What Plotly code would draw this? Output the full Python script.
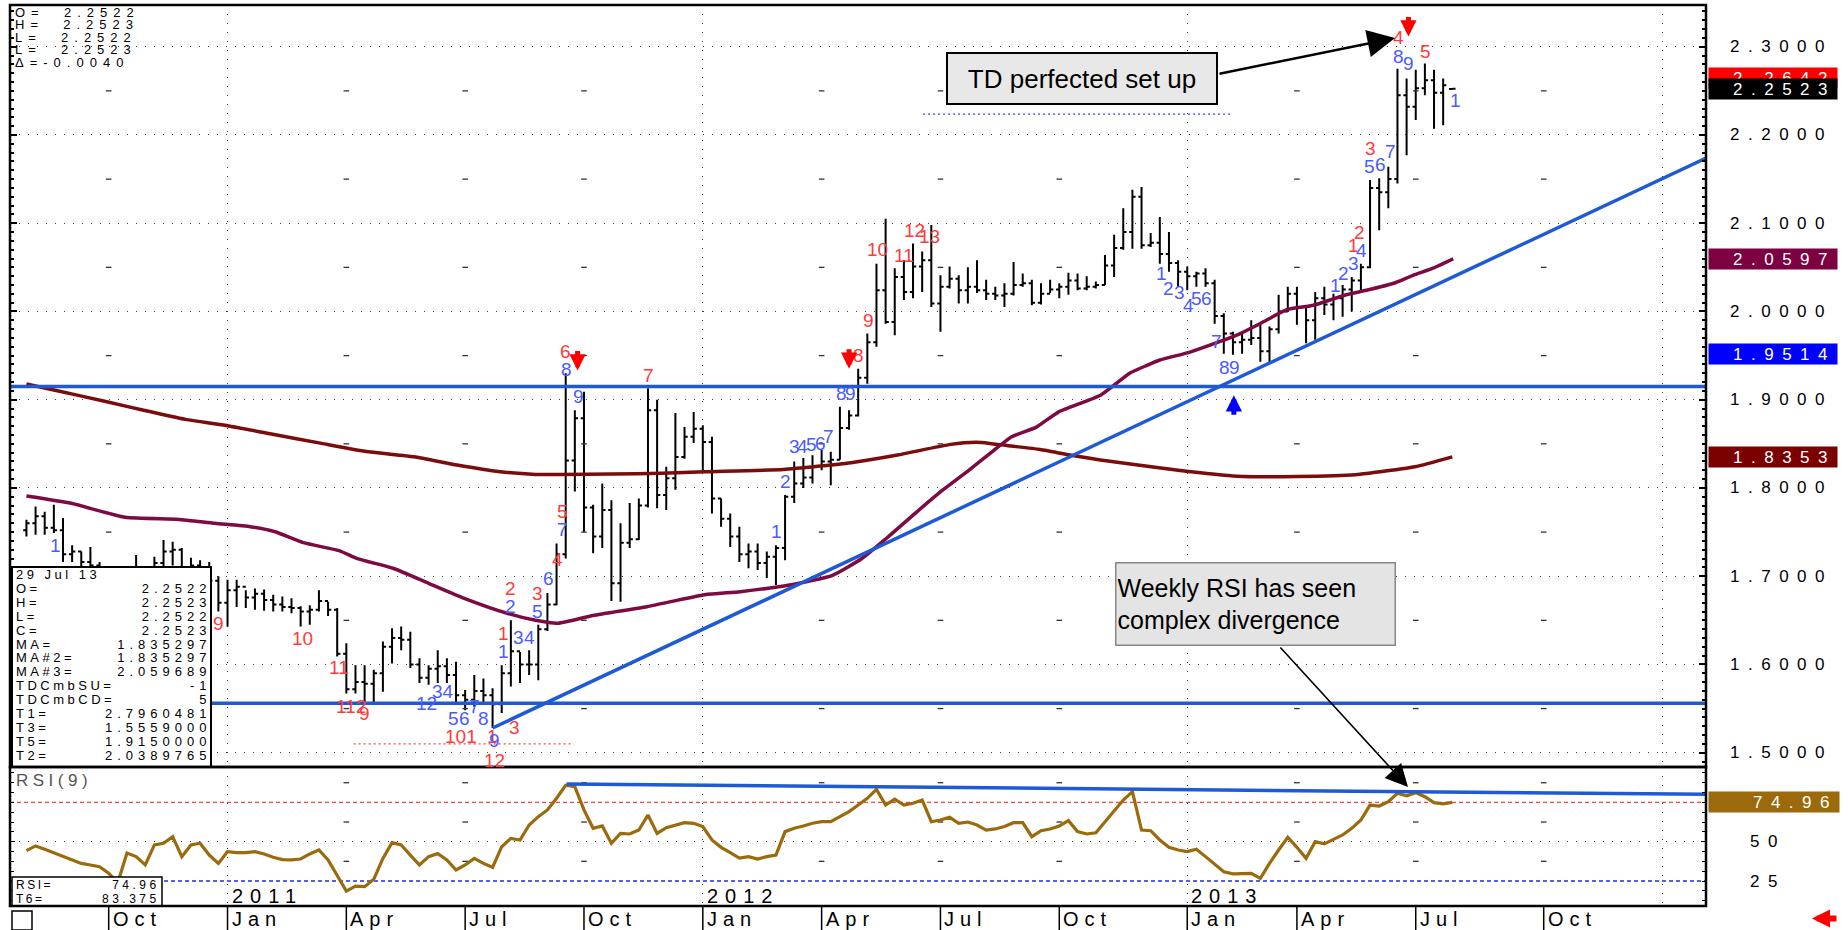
import pandas as pd
import plotly.graph_objects as go

# ---------------- data (weekly bars, Mondays) ----------------
first_bar = "2010-08-02"
week0 = "2011-01-03"   # reference week used for positions of notes

opens = [1.752, 1.760, 1.768, 1.755, 1.752, 1.725, 1.728, 1.716, 1.712, 1.698,
         1.688, 1.678, 1.700, 1.705, 1.695, 1.715, 1.728, 1.730, 1.706, 1.712,
         1.708, 1.695, 1.670, 1.684, 1.688, 1.676, 1.680, 1.673, 1.668, 1.665,
         1.664, 1.660, 1.662, 1.672, 1.662, 1.612, 1.572, 1.580, 1.578, 1.590,
         1.620, 1.630, 1.628, 1.600, 1.585, 1.595, 1.598, 1.588, 1.565, 1.560,
         1.570, 1.565, 1.555, 1.590, 1.615, 1.600, 1.600, 1.640, 1.668, 1.725,
         1.831, 1.879, 1.778, 1.745, 1.775, 1.692, 1.738, 1.742, 1.780, 1.888,
         1.792, 1.811, 1.835, 1.858, 1.867, 1.852, 1.788, 1.765, 1.745, 1.725,
         1.728, 1.715, 1.722, 1.732, 1.790, 1.805, 1.812, 1.825, 1.830, 1.832,
         1.868, 1.882, 1.925, 1.965, 2.024, 1.988, 2.039, 2.022, 2.051, 2.058,
         2.009, 2.028, 2.037, 2.024, 2.028, 2.024, 2.020, 2.018, 2.020, 2.030,
         2.032, 2.010, 2.020, 2.025, 2.028, 2.035, 2.026, 2.028, 2.030, 2.052,
         2.072, 2.090, 2.130, 2.075, 2.078, 2.065, 2.055, 2.045, 2.040, 2.043,
         2.032, 1.995, 1.975, 1.965, 1.968, 1.970, 1.955, 1.980, 2.000, 2.020,
         2.005, 1.990, 2.015, 2.008, 2.015, 2.025, 2.035, 2.050, 2.140, 2.135,
         2.150, 2.245, 2.232, 2.253, 2.262, 2.248, 2.2522]
highs = [1.764, 1.779, 1.773, 1.781, 1.766, 1.735, 1.728, 1.733, 1.716, 1.704,
         1.700, 1.708, 1.724, 1.705, 1.722, 1.741, 1.739, 1.732, 1.721, 1.718,
         1.716, 1.700, 1.696, 1.696, 1.684, 1.686, 1.685, 1.679, 1.677, 1.675,
         1.666, 1.667, 1.684, 1.671, 1.664, 1.624, 1.599, 1.599, 1.594, 1.626,
         1.641, 1.643, 1.637, 1.607, 1.599, 1.616, 1.607, 1.603, 1.571, 1.588,
         1.584, 1.573, 1.599, 1.650, 1.614, 1.616, 1.645, 1.681, 1.737, 1.930,
         1.888, 1.909, 1.781, 1.805, 1.786, 1.760, 1.783, 1.788, 1.913, 1.900,
         1.824, 1.885, 1.869, 1.886, 1.871, 1.858, 1.788, 1.771, 1.756, 1.737,
         1.737, 1.728, 1.735, 1.792, 1.830, 1.834, 1.837, 1.843, 1.841, 1.892,
         1.888, 1.935, 1.975, 2.054, 2.105, 2.049, 2.058, 2.077, 2.068, 2.098,
         2.041, 2.051, 2.041, 2.050, 2.058, 2.036, 2.028, 2.032, 2.056, 2.043,
         2.036, 2.032, 2.036, 2.032, 2.044, 2.043, 2.040, 2.034, 2.064, 2.087,
         2.117, 2.138, 2.141, 2.089, 2.107, 2.090, 2.058, 2.051, 2.045, 2.049,
         2.036, 1.998, 1.977, 1.977, 1.990, 1.985, 1.983, 2.019, 2.028, 2.028,
         2.006, 2.022, 2.028, 2.020, 2.030, 2.039, 2.054, 2.149, 2.151, 2.164,
         2.275, 2.264, 2.274, 2.281, 2.274, 2.264, 2.2523]
lows = [1.745, 1.747, 1.747, 1.749, 1.716, 1.716, 1.711, 1.705, 1.690, 1.680,
        1.672, 1.676, 1.690, 1.688, 1.692, 1.705, 1.712, 1.700, 1.695, 1.695,
        1.690, 1.660, 1.643, 1.665, 1.664, 1.662, 1.661, 1.660, 1.660, 1.658,
        1.643, 1.645, 1.660, 1.655, 1.609, 1.567, 1.567, 1.556, 1.556, 1.569,
        1.601, 1.616, 1.596, 1.579, 1.577, 1.579, 1.579, 1.556, 1.548, 1.552,
        1.556, 1.528, 1.545, 1.575, 1.579, 1.588, 1.582, 1.638, 1.667, 1.720,
        1.796, 1.750, 1.726, 1.732, 1.672, 1.671, 1.732, 1.741, 1.778, 1.777,
        1.775, 1.798, 1.833, 1.851, 1.820, 1.771, 1.756, 1.733, 1.716, 1.709,
        1.707, 1.698, 1.690, 1.718, 1.783, 1.800, 1.805, 1.820, 1.803, 1.832,
        1.866, 1.881, 1.918, 1.960, 1.986, 1.973, 2.013, 2.015, 2.022, 2.005,
        1.977, 2.026, 2.009, 2.009, 2.021, 2.013, 2.013, 2.005, 2.018, 2.028,
        2.007, 2.008, 2.021, 2.015, 2.019, 2.024, 2.024, 2.026, 2.030, 2.039,
        2.070, 2.071, 2.071, 2.073, 2.054, 2.045, 2.028, 2.024, 2.028, 2.028,
        1.986, 1.952, 1.951, 1.952, 1.962, 1.943, 1.943, 1.975, 2.000, 1.985,
        1.964, 1.968, 1.996, 1.990, 1.994, 2.000, 2.024, 2.049, 2.092, 2.117,
        2.145, 2.177, 2.217, 2.245, 2.207, 2.211, 2.2522]
closes = [1.760, 1.768, 1.755, 1.752, 1.725, 1.728, 1.716, 1.712, 1.698, 1.688,
          1.678, 1.700, 1.705, 1.695, 1.715, 1.728, 1.730, 1.706, 1.712, 1.708,
          1.695, 1.670, 1.684, 1.688, 1.676, 1.680, 1.673, 1.668, 1.665, 1.664,
          1.660, 1.662, 1.672, 1.662, 1.612, 1.572, 1.580, 1.578, 1.590, 1.620,
          1.630, 1.628, 1.600, 1.585, 1.595, 1.598, 1.588, 1.565, 1.560, 1.570,
          1.565, 1.555, 1.590, 1.615, 1.600, 1.600, 1.640, 1.668, 1.725, 1.831,
          1.879, 1.778, 1.745, 1.775, 1.692, 1.738, 1.742, 1.780, 1.888, 1.792,
          1.811, 1.835, 1.858, 1.867, 1.852, 1.788, 1.765, 1.745, 1.725, 1.728,
          1.715, 1.722, 1.732, 1.790, 1.805, 1.812, 1.825, 1.830, 1.832, 1.868,
          1.882, 1.925, 1.965, 2.024, 1.988, 2.039, 2.022, 2.051, 2.058, 2.009,
          2.028, 2.037, 2.024, 2.028, 2.024, 2.020, 2.018, 2.020, 2.030, 2.032,
          2.010, 2.020, 2.025, 2.028, 2.035, 2.026, 2.028, 2.030, 2.052, 2.072,
          2.090, 2.130, 2.075, 2.078, 2.065, 2.055, 2.045, 2.040, 2.043, 2.032,
          1.995, 1.975, 1.965, 1.968, 1.970, 1.955, 1.980, 2.000, 2.020, 2.005,
          1.990, 2.015, 2.008, 2.015, 2.025, 2.035, 2.050, 2.140, 2.135, 2.150,
          2.245, 2.232, 2.253, 2.262, 2.248, 2.2563, 2.2523]
rsi9 = [44.3, 47.3, 45.2, 43.0, 40.5, 38.4, 36.2, 35.2, 34.1, 29.9,
        24.0, 42.8, 40.5, 35.2, 48.0, 49.0, 53.2, 40.5, 47.9, 49.0,
        41.5, 36.2, 43.7, 43.0, 43.0, 43.7, 42.2, 40.1, 38.6, 38.4,
        39.0, 42.2, 44.7, 38.4, 28.8, 18.6, 21.8, 21.4, 26.1, 39.4,
        49.4, 47.9, 41.5, 35.2, 40.5, 42.4, 38.4, 32.0, 35.2, 39.4,
        36.2, 33.7, 46.8, 52.1, 51.1, 60.6, 65.9, 70.2, 77.6, 85.9,
        85.0, 70.2, 58.5, 60.0, 49.0, 55.3, 54.9, 57.4, 67.0, 55.3,
        58.9, 60.6, 62.1, 61.7, 59.6, 51.1, 46.4, 43.0, 39.6, 40.5,
        39.0, 40.5, 41.5, 56.4, 58.5, 60.0, 61.7, 62.7, 62.7, 65.9,
        69.1, 73.3, 77.6, 83.3, 73.3, 77.0, 73.3, 74.4, 76.5, 62.7,
        63.8, 65.5, 61.7, 62.5, 60.6, 57.4, 58.1, 59.6, 62.1, 62.1,
        53.2, 57.0, 58.1, 60.0, 63.4, 56.4, 54.9, 55.7, 62.7, 70.2,
        76.5, 81.8, 57.4, 57.0, 51.1, 46.4, 44.7, 43.7, 45.2, 40.5,
        35.8, 30.9, 29.5, 29.9, 29.9, 26.7, 36.2, 44.7, 52.8, 46.4,
        39.4, 50.0, 48.6, 51.5, 54.3, 58.5, 63.8, 73.3, 72.7, 75.5,
        80.8, 79.1, 81.2, 78.6, 74.8, 74.0, 74.96]

# moving averages (week offsets from week0, value)
ma_long_wk = [-22, -19, -13.2, -9.3, -4.6, 0, 4.8, 10.3, 15.4, 20.4, 25.1, 29.8, 33.7, 36.4,
              42, 47.5, 52.2, 60.8, 68.2, 73.3, 79.1, 81.9, 83.4, 85.4, 88.9, 92.8, 95.5,
              104, 110.5, 117, 123.4, 129.9, 134]
ma_long_val = [1.9178, 1.911, 1.8977, 1.8883, 1.8777, 1.8706, 1.8611, 1.8505, 1.841, 1.8354,
               1.826, 1.8184, 1.8154, 1.8154, 1.8158, 1.8166, 1.8184, 1.821, 1.8287, 1.8373,
               1.8494, 1.8517, 1.8505, 1.8479, 1.8437, 1.8362, 1.8317, 1.820, 1.8133, 1.8130,
               1.815, 1.824, 1.8353]
ma3_wk = [-22, -17.1, -11.2, -5.35, -1.4, 2.5, 5.2, 8.3, 12.2, 14.2, 18.1, 22, 25.9, 30.6,
          33.7, 36.1, 40, 45.9, 52.2, 56.1, 61.5, 66.2, 69.4, 72.1, 75.2, 78.3, 81.1, 83.4,
          85.8, 88.5, 90.9, 95.5, 98.7, 100.6, 102, 105.3, 108.6, 110.8, 113.1, 115.9, 118.8,
          122.4, 124.6, 127.6, 129.7, 131.9, 134.1]
ma3_val = [1.7909, 1.7826, 1.7667, 1.7644, 1.7599, 1.7561, 1.7504, 1.738, 1.729, 1.720,
           1.709, 1.692, 1.675, 1.658, 1.650, 1.6466, 1.6555, 1.6655, 1.679, 1.6825, 1.690,
           1.701, 1.720, 1.743, 1.771, 1.798, 1.820, 1.839, 1.858, 1.869, 1.886, 1.905, 1.930,
           1.939, 1.945, 1.954, 1.966, 1.975, 1.987, 2.002, 2.007, 2.019, 2.024, 2.032, 2.041,
           2.049, 2.0597]

trend_wk = [29, 162]
trend_val = [1.528, 2.175]
rsi_trend_wk = [37.1, 162]
rsi_trend_val = [86.7, 80.1]
t5_level = 1.9150
t3_level = 1.5559
td_blue_dot_wk, td_blue_dot_val = [76.1, 109.9], 2.2236
td_red_dot_wk, td_red_dot_val = [13.8, 37.9], 1.5099

price_ticks = [2.3, 2.2, 2.1, 2.0, 1.9, 1.8, 1.7, 1.6, 1.5]
rsi_tick_vals = [50, 25]
tag_values = [2.2642, 2.2523, 2.0597, 1.9514, 1.8353]
tag_colors = ["#FF0000", "#000000", "#7D0040", "#0000FF", "#7B0000"]
rsi_tag = 74.96

# TD sequential / setup counts
td_weeks = [-18.8, -0.97, 8.25, 12.2, 13.5, 15.0, 21.8, 23.6, 24.7, 25.9, 27.0, 28.0, 25.5, 29.0,
            29.2, 29.2, 31.4, 30.2, 30.2, 31.0, 31.0, 31.8, 33.0, 33.9, 33.9, 35.1, 36.05, 36.65,
            36.65, 37.0, 37.1, 38.4, 46.1, 60.05, 61.1, 62.0, 62.9, 63.9, 64.9, 65.8, 69.0, 67.2,
            68.2, 70.1, 71.1, 74.0, 75.2, 76.8, 102.2, 103.0, 104.1, 105.1, 106.0, 107.1, 108.2,
            109.1, 110.2, 121.2, 122.1, 123.2, 124.1, 123.2, 123.9, 125.1, 124.9, 126.1, 127.2,
            128.1, 128.1, 129.2, 131.1, 134.3]
td_prices = [1.735, 1.6466, 1.6297, 1.596, 1.552, 1.5447, 1.556, 1.569, 1.539, 1.539, 1.552, 1.539,
             1.518, 1.518, 1.5144, 1.4917, 1.529, 1.6356, 1.6144, 1.6866, 1.6655, 1.630, 1.630,
             1.6806, 1.6598, 1.6977, 1.7184, 1.7524, 1.7731, 1.9544, 1.9337, 1.9034, 1.928, 1.7504,
             1.807, 1.8468, 1.8468, 1.8487, 1.8505, 1.858, 1.9506, 1.907, 1.907, 1.990, 2.070,
             2.064, 2.092, 2.085, 2.0432, 2.0265, 2.021, 2.0073, 2.015, 2.015, 1.9657, 1.937,
             1.937, 2.030, 2.043, 2.054, 2.0696, 2.075, 2.090, 2.1849, 2.164, 2.166, 2.181,
             2.3107, 2.2887, 2.281, 2.2943, 2.2396]
td_labels = ["1", "9", "10", "11", "112", "9", "12", "34", "5", "6", "7", "8", "101", "1",
             "9", "12", "3", "1", "1", "2", "2", "3", "4", "3", "5", "6", "4", "7",
             "5", "6", "8", "9", "7", "1", "2", "3", "4", "5", "6", "7", "8", "8",
             "9", "9", "10", "11", "12", "13", "1", "2", "3", "4", "5", "6", "7",
             "8", "9", "1", "2", "3", "4", "1", "2", "3", "5", "6", "7",
             "4", "8", "9", "5", "1"]
td_colors = ["b", "r", "r", "r", "r", "r", "b", "b", "b", "b", "b", "b", "r", "r",
             "b", "r", "r", "r", "b", "r", "b", "b", "b", "r", "b", "b", "r", "b",
             "r", "r", "b", "b", "r", "b", "b", "b", "b", "b", "b", "b", "r", "b",
             "b", "r", "r", "r", "r", "r", "b", "b", "b", "b", "b", "b", "b",
             "b", "b", "b", "b", "b", "b", "r", "r", "r", "b", "b", "b",
             "r", "b", "b", "r", "b"]
sell_arrow_weeks = [38.3, 68.0, 129.2]
sell_arrow_tips = [1.933, 1.935, 2.3115]
buy_arrow_weeks = [110.1]
buy_arrow_tips = [1.905]

quarter_dates = ["2010-10-04", "2011-01-03", "2011-04-04", "2011-07-04", "2011-10-03",
                 "2012-01-02", "2012-04-02", "2012-07-02", "2012-10-01", "2013-01-07",
                 "2013-04-01", "2013-07-01", "2013-10-07"]
quarter_names = ["Oct", "Jan", "Apr", "Jul", "Oct", "Jan", "Apr", "Jul", "Oct", "Jan",
                 "Apr", "Jul", "Oct"]
year_dates = ["2011-01-03", "2012-01-02", "2013-01-07", "2014-01-06"]
year_names = ["2011", "2012", "2013"]

top_info = [("O=", "2.2522"), ("H=", "2.2523"), ("L=", "2.2522"), ("L=", "2.2523"), ("Δ=", "-0.0040")]
box_info = [("29 Jul 13", ""), ("O=", "2.2522"), ("H=", "2.2523"), ("L=", "2.2522"),
            ("C=", "2.2523"), ("MA=", "1.835297"), ("MA#2=", "1.835297"), ("MA#3=", "2.059689"),
            ("TDCmbSU=", "-1"), ("TDCmbCD=", "5"), ("T1=", "2.7960481"), ("T3=", "1.5559000"),
            ("T5=", "1.9150000"), ("T2=", "2.0389765")]
rsi_info = [("RSI=", "74.96"), ("T6=", "83.375")]

# ---------------- geometry ----------------
W, H = 1848, 930
ML, MR, MT, MB = 10, 142, 5, 24
PW, PH = W - ML - MR, H - MT - MB
SPLIT = 767  # pixel row between price and RSI panels


def px_x(X):
    return (X - ML) / PW


def px_y(Y):
    return (H - MB - Y) / PH


base = pd.Timestamp(week0)


def wdate(w):
    return base + pd.Timedelta(days=7 * w)


def sp(s, ls, size=None):
    st = f"letter-spacing:{ls}px"
    if size:
        st += f";font-size:{size}px"
    return f'<span style="{st}">{s}</span>'


dates = pd.date_range(first_bar, periods=len(closes), freq="7D")
FONT = "Liberation Sans, Arial, sans-serif"
BLUE = "#1E5AD6"
RED_T = "#FF3A3A"
BLUE_T = "#4B5BFF"
NB = "\u00a0"

fig = go.Figure()

fig.add_trace(go.Ohlc(
    x=dates, open=opens, high=highs, low=lows, close=closes,
    increasing=dict(line=dict(color="black", width=2)),
    decreasing=dict(line=dict(color="black", width=2)),
    tickwidth=0.35, xaxis="x", yaxis="y", showlegend=False, hoverinfo="skip"))

fig.add_trace(go.Scatter(x=[wdate(w) for w in ma_long_wk], y=ma_long_val, mode="lines",
                         line=dict(color="#7A0C0C", width=3.5, shape="spline", smoothing=0.5),
                         xaxis="x", yaxis="y", showlegend=False, hoverinfo="skip"))
fig.add_trace(go.Scatter(x=[wdate(w) for w in ma3_wk], y=ma3_val, mode="lines",
                         line=dict(color="#7D0A40", width=3.5, shape="spline", smoothing=0.5),
                         xaxis="x", yaxis="y", showlegend=False, hoverinfo="skip"))
fig.add_trace(go.Scatter(x=[wdate(w) for w in trend_wk], y=trend_val, mode="lines",
                         line=dict(color=BLUE, width=3.5),
                         xaxis="x", yaxis="y", showlegend=False, hoverinfo="skip"))
fig.add_trace(go.Scatter(x=[wdate(w) for w in td_blue_dot_wk], y=[td_blue_dot_val] * 2, mode="lines",
                         line=dict(color="#3040FF", width=1.3, dash="2px,3px"),
                         xaxis="x", yaxis="y", showlegend=False, hoverinfo="skip"))
fig.add_trace(go.Scatter(x=[wdate(w) for w in td_red_dot_wk], y=[td_red_dot_val] * 2, mode="lines",
                         line=dict(color="#FF4040", width=1.3, dash="2px,3px"),
                         xaxis="x", yaxis="y", showlegend=False, hoverinfo="skip"))

# grid marks at quarter lines (half levels)
qx, qy = [], []
for d, n in zip(quarter_dates, quarter_names):
    if n == "Jan":
        continue
    for lv in [1.55, 1.65, 1.75, 1.85, 1.95, 2.05, 2.15, 2.25]:
        qx.append(pd.Timestamp(d)); qy.append(lv)
fig.add_trace(go.Scatter(x=qx, y=qy, mode="markers",
                         marker=dict(symbol="line-ew", size=4, line=dict(width=1.3, color="#333")),
                         xaxis="x", yaxis="y", showlegend=False, hoverinfo="skip"))
rx, ry = [], []
for d, n in zip(quarter_dates, quarter_names):
    if n == "Jan" or d < "2011":
        continue
    for lv in [37.5, 62.5, 87.5]:
        rx.append(pd.Timestamp(d)); ry.append(lv)
fig.add_trace(go.Scatter(x=rx, y=ry, mode="markers",
                         marker=dict(symbol="line-ew", size=4, line=dict(width=1.3, color="#333")),
                         xaxis="x", yaxis="y2", showlegend=False, hoverinfo="skip"))

# RSI panel
fig.add_trace(go.Scatter(x=dates, y=rsi9, mode="lines", line=dict(color="#9A6A0C", width=3.2),
                         xaxis="x", yaxis="y2", showlegend=False, hoverinfo="skip"))
fig.add_trace(go.Scatter(x=[wdate(w) for w in rsi_trend_wk], y=rsi_trend_val, mode="lines",
                         line=dict(color=BLUE, width=3.5),
                         xaxis="x", yaxis="y2", showlegend=False, hoverinfo="skip"))

shapes = []
for lv in [t5_level, t3_level]:
    shapes.append(dict(type="line", xref="paper", x0=0, x1=1, yref="y", y0=lv, y1=lv,
                       line=dict(color=BLUE, width=3.5), layer="above"))
shapes.append(dict(type="line", xref="paper", x0=0, x1=1, yref="y2", y0=75, y1=75,
                   line=dict(color="#FF4040", width=1.3, dash="4px,3px"), layer="below"))
shapes.append(dict(type="line", xref="paper", x0=0, x1=1, yref="y2", y0=25, y1=25,
                   line=dict(color="#2030E0", width=1.3, dash="4px,3px"), layer="below"))
shapes.append(dict(type="rect", xref="paper", yref="paper", x0=px_x(12), x1=px_x(211),
                   y0=px_y(767), y1=px_y(567), fillcolor="white", line=dict(color="black", width=2),
                   layer="above"))
shapes.append(dict(type="rect", xref="paper", yref="paper", x0=px_x(12), x1=px_x(162),
                   y0=px_y(906), y1=px_y(877), fillcolor="white", line=dict(color="black", width=1.5),
                   layer="above"))
shapes.append(dict(type="rect", xref="paper", yref="paper", x0=0, x1=1, y0=px_y(SPLIT), y1=1,
                   line=dict(color="black", width=2.5), layer="above"))
shapes.append(dict(type="rect", xref="paper", yref="paper", x0=0, x1=1, y0=0, y1=px_y(SPLIT),
                   line=dict(color="black", width=2.5), layer="above"))
for d in quarter_dates:
    shapes.append(dict(type="line", xref="x", x0=d, x1=d, yref="paper", y0=px_y(907), y1=px_y(931),
                       line=dict(color="black", width=1.5)))
shapes.append(dict(type="rect", xref="paper", yref="paper", x0=px_x(12), x1=px_x(32),
                   y0=px_y(930), y1=px_y(911), line=dict(color="black", width=1.5)))

ann = []
for w, p, t, c in zip(td_weeks, td_prices, td_labels, td_colors):
    ann.append(dict(x=wdate(w), y=p, xref="x", yref="y", text=t, showarrow=False,
                    xanchor="center", yanchor="middle",
                    font=dict(family=FONT, size=19, color=RED_T if c == "r" else BLUE_T)))
for w, p in zip(sell_arrow_weeks, sell_arrow_tips):
    ann.append(dict(x=wdate(w), y=p, xref="x", yref="y", text="", showarrow=True, ax=0, ay=-21,
                    arrowhead=2, arrowsize=0.65, arrowwidth=5, arrowcolor="#FF0000"))
for w, p in zip(buy_arrow_weeks, buy_arrow_tips):
    ann.append(dict(x=wdate(w), y=p, xref="x", yref="y", text="", showarrow=True, ax=0, ay=21,
                    arrowhead=2, arrowsize=0.65, arrowwidth=5, arrowcolor="#0000FF"))

# right-hand price scale
for v in price_ticks:
    ann.append(dict(x=px_x(1728), xanchor="left", xref="paper", y=v, yref="y", yanchor="middle",
                    text=sp(f"{v:.4f}", 8.5), showarrow=False,
                    font=dict(family=FONT, size=17, color="black")))
for v in rsi_tick_vals:
    ann.append(dict(x=px_x(1748), xanchor="left", xref="paper", y=v, yref="y2", yanchor="middle",
                    text=sp(f"{v}", 8.5), showarrow=False,
                    font=dict(family=FONT, size=17, color="black")))
for v, c in zip(tag_values, tag_colors):
    ann.append(dict(x=px_x(1838), xanchor="right", xref="paper", y=v, yref="y", yanchor="middle",
                    text=sp(f"{v:.4f}", 8.5), showarrow=False, bgcolor=c, width=126, height=18,
                    align="right", borderpad=1, font=dict(family=FONT, size=17, color="white")))
ann.append(dict(x=px_x(1840), xanchor="right", xref="paper", y=rsi_tag, yref="y2", yanchor="middle",
                text=sp(f"{rsi_tag:.2f}", 8.5), showarrow=False, bgcolor="#9A6A0C", width=128,
                height=18, align="right", borderpad=1, font=dict(family=FONT, size=17, color="white")))

# top-left OHLC readout (one block, 12.4 px rows)
rows = [sp(k + (NB + NB if k != "Δ=" else "") + v, 6, 13) for k, v in top_info]
ann.append(dict(x=px_x(13), xanchor="left", xref="paper", y=px_y(37.5), yref="paper",
                yanchor="middle", align="left", text="<br>".join(rows), showarrow=False,
                font=dict(family=FONT, size=12.4 / 1.3, color="black")))
# bottom-left data window (13.9 px rows)
lab = "<br>".join(sp(k, 3.5, 13) for k, v in box_info)
val = "<br>".join(sp(v if v else NB, 5, 13) for k, v in box_info)
ymid = px_y(575 + 13.9 * (len(box_info) - 1) / 2)
ann.append(dict(x=px_x(14), xanchor="left", xref="paper", y=ymid, yref="paper", yanchor="middle",
                align="left", text=lab, showarrow=False,
                font=dict(family=FONT, size=13.9 / 1.3, color="black")))
ann.append(dict(x=px_x(213), xanchor="right", xref="paper", y=ymid, yref="paper", yanchor="middle",
                align="right", text=val, showarrow=False,
                font=dict(family=FONT, size=13.9 / 1.3, color="black")))
lab = "<br>".join(sp(k, 2.5, 12) for k, v in rsi_info)
val = "<br>".join(sp(v, 3.5, 12) for k, v in rsi_info)
ann.append(dict(x=px_x(14), xanchor="left", xref="paper", y=px_y(892), yref="paper", yanchor="middle",
                align="left", text=lab, showarrow=False,
                font=dict(family=FONT, size=14 / 1.3, color="black")))
ann.append(dict(x=px_x(162), xanchor="right", xref="paper", y=px_y(892), yref="paper",
                yanchor="middle", align="right", text=val, showarrow=False,
                font=dict(family=FONT, size=14 / 1.3, color="black")))
ann.append(dict(x=px_x(14), xanchor="left", xref="paper", y=px_y(780), yref="paper", yanchor="middle",
                text=sp("RSI(9)", 4.5), showarrow=False, font=dict(family=FONT, size=17, color="#555")))

# date strip and year labels
for d, n in zip(quarter_dates, quarter_names):
    ann.append(dict(x=d, xref="x", xanchor="left", xshift=2, y=px_y(918.5), yref="paper",
                    yanchor="middle", text=sp(n, 6), showarrow=False,
                    font=dict(family=FONT, size=20, color="black")))
for d, n in zip(year_dates, year_names):
    ann.append(dict(x=d, xref="x", xanchor="left", xshift=2, y=px_y(896), yref="paper",
                    yanchor="middle", text=sp(n, 7), showarrow=False,
                    font=dict(family=FONT, size=20, color="black")))

# call-outs
ann.append(dict(x=px_x(1082), y=px_y(78.5), xref="paper", yref="paper", xanchor="center",
                yanchor="middle", text="TD perfected set up",
                showarrow=False, bgcolor="#E8E8E8", bordercolor="black", borderwidth=2, borderpad=1,
                width=266, height=47, font=dict(family=FONT, size=26, color="black")))
ann.append(dict(x=px_x(1395), y=px_y(38), xref="paper", yref="paper", text="", showarrow=True,
                ax=-177, ay=36, arrowhead=2, arrowsize=2.2, arrowwidth=2.5, arrowcolor="black"))
ann.append(dict(x=px_x(1255.5), y=px_y(604), xref="paper", yref="paper", xanchor="center",
                yanchor="middle", text="Weekly RSI has seen<br>complex divergence", align="left",
                showarrow=False, bgcolor="#E4E4E4", bordercolor="#888", borderwidth=1.5, borderpad=1,
                width=276, height=79, font=dict(family=FONT, size=25, color="black")))
ann.append(dict(x=px_x(1408), y=px_y(787), xref="paper", yref="paper", text="", showarrow=True,
                ax=-129, ay=-141, arrowhead=2, arrowsize=2.8, arrowwidth=1.6, arrowcolor="black"))
ann.append(dict(x=px_x(1812), y=px_y(918.5), xref="paper", yref="paper", text="", showarrow=True,
                ax=26, ay=0, arrowhead=2, arrowsize=0.6, arrowwidth=6, arrowcolor="#FF0000"))

main_dom = [px_y(SPLIT), 1]
rsi_dom = [0, px_y(SPLIT)]
fig.update_layout(
    width=W, height=H, margin=dict(l=ML, r=MR, t=MT, b=MB),
    paper_bgcolor="white", plot_bgcolor="white", showlegend=False,
    font=dict(family=FONT),
    xaxis=dict(type="date", range=["2010-07-20 10:00", "2014-02-08 07:00"], anchor="y2",
               tickvals=year_dates, showticklabels=False, ticks="", showgrid=True,
               gridcolor="#444", griddash="1px,8px", gridwidth=1, zeroline=False,
               rangeslider=dict(visible=False), showline=False),
    yaxis=dict(domain=main_dom, range=[1.4838, 2.3473], anchor="x", side="right",
               tickvals=[1.5, 1.6, 1.7, 1.8, 1.9, 2.0, 2.1, 2.2, 2.3], showticklabels=False,
               ticks="inside", ticklen=7, tickcolor="black", tickwidth=1.5, mirror="ticks",
               showline=False, showgrid=True, gridcolor="#444", griddash="1px,8px", zeroline=False,
               minor=dict(dtick=0.01, tick0=1.5, ticks="inside", ticklen=4, tickcolor="black",
                          showgrid=False)),
    yaxis2=dict(domain=rsi_dom, range=[9.1, 97.5], anchor="x", side="right",
                tickvals=[50], showticklabels=False, ticks="inside", ticklen=5, tickcolor="black",
                mirror="ticks", showline=False, showgrid=True, gridcolor="#444",
                griddash="1px,8px", zeroline=False,
                minor=dict(dtick=6.25, tick0=0, ticks="inside", ticklen=4, tickcolor="black",
                           showgrid=False)),
    shapes=shapes, annotations=ann,
)

fig.write_html("out.html", config={"displayModeBar": False},
               post_script="document.body.style.margin='0';document.body.style.overflow='hidden';")
